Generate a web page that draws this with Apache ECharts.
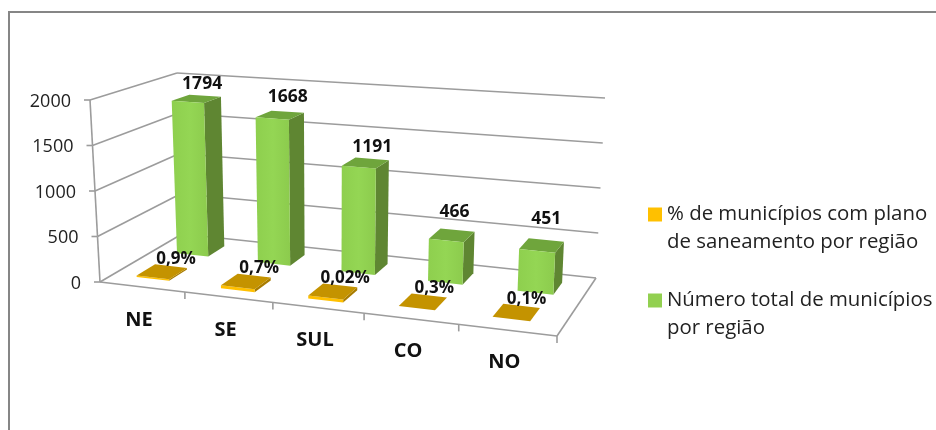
<!DOCTYPE html>
<html>
<head>
<meta charset="utf-8">
<style>html,body{margin:0;padding:0;background:#fff}#chart{width:936px;height:430px}</style>
<script src="https://cdn.jsdelivr.net/npm/echarts@6/dist/echarts.min.js"></script>
</head>
<body>
<div id="chart"></div>
<script>
// Chart data
const regions = ['NE', 'SE', 'SUL', 'CO', 'NO'];
const planPercent = [0.9, 0.7, 0.02, 0.3, 0.1];
const municipalities = [1794, 1668, 1191, 466, 451];
const valueTicks = [0, 500, 1000, 1500, 2000];
const seriesNames = ['% de municípios com plano\nde saneamento por região', 'Número total de municípios\npor região'];

// Corners of the 3D box on screen: floor plane and the plane at the axis maximum
const floorQuad = [[100, 282], [557, 336], [596, 278], [182, 234]];
const topQuad = [[90, 100], [566, 136], [605, 98], [177, 73]];

// Unit square -> quadrilateral projective map (corners: u0v0, u1v0, u1v1, u0v1)
function squareToQuad(q) {
  const [x0, y0] = q[0], [x1, y1] = q[1], [x2, y2] = q[2], [x3, y3] = q[3];
  const sx = x0 - x1 + x2 - x3, sy = y0 - y1 + y2 - y3;
  const dx1 = x1 - x2, dx2 = x3 - x2, dy1 = y1 - y2, dy2 = y3 - y2;
  const det = dx1 * dy2 - dx2 * dy1;
  const g = (sx * dy2 - dx2 * sy) / det, h = (dx1 * sy - sx * dy1) / det;
  const a = x1 - x0 + g * x1, b = x3 - x0 + h * x3, d = y1 - y0 + g * y1, e = y3 - y0 + h * y3;
  return (u, v) => {
    const w = g * u + h * v + 1;
    return [(a * u + b * v + x0) / w, (d * u + e * v + y0) / w];
  };
}
const floorMap = squareToQuad(floorQuad);
const rise = floorQuad.map((c, i) => [topQuad[i][0] - c[0], topQuad[i][1] - c[1]]);

// u: across the categories, v: depth, h: height as a share of the axis range.
// The floor position is projective; the vertical offset blends the four corner rises.
function project(u, v, h) {
  const f = floorMap(u, v);
  const blend = k => (rise[0][k] * (1 - u) + rise[1][k] * u) * (1 - v) + (rise[3][k] * (1 - u) + rise[2][k] * u) * v;
  return [f[0] + blend(0) * h, f[1] + blend(1) * h];
}

// Reads a value through the hidden cartesian axes and returns unit coordinates
function unitCoords(api, params, index, value) {
  const cs = params.coordSys, p = api.coord([index, value]);
  return {
    u: (p[0] - cs.x) / cs.width,
    h: (cs.y + cs.height - p[1]) / cs.height,
    halfBand: api.size([1, 0])[0] / cs.width / 2
  };
}

const poly = (points, fill) => ({ type: 'polygon', shape: { points }, style: { fill } });
const seg = (a, b, stroke, width) => ({
  type: 'line', shape: { x1: a[0], y1: a[1], x2: b[0], y2: b[1] },
  style: { stroke, lineWidth: width || 1.6 }
});
const label = (text, x, y, font, align, fill) => ({
  type: 'text',
  style: { text, x, y, font, align: align || 'center', verticalAlign: 'middle', fill: fill || '#111' }
});

const WALL = '#9c9c9c';
const FONT = '"Open Sans", sans-serif';
const BAR_SHARE = 0.39;

// Walls: one gridline pair plus tick and label per axis value
function renderTick(params, api) {
  const tick = api.value(1);
  const { h } = unitCoords(api, params, 0, tick);
  const front = project(0, 0, h), corner = project(0, 1, h), right = project(1, 1, h);
  const children = [
    seg(front, corner, WALL), seg(corner, right, WALL),
    seg([front[0] - 6, front[1]], front, WALL),
    label(String(tick), front[0] - 19, front[1] + 1.5, '18px ' + FONT, 'right', '#222')
  ];
  if (tick === 0) {
    children.push(seg(project(0, 0, 0), project(1, 0, 0), WALL), seg(project(1, 0, 0), project(1, 1, 0), WALL));
  } else {
    children.push(seg(project(0, 0, h), project(0, 0, h - 500 / 2000), WALL));
  }
  return { type: 'group', children };
}

// Floor ticks and region names
function renderCategory(params, api) {
  const i = api.value(0);
  const { u, halfBand } = unitCoords(api, params, i, 0);
  const end = project(u + halfBand, 0, 0);
  const mid = project(u, 0, 0);
  return {
    type: 'group',
    children: [
      label(regions[i], mid[0] - 3, mid[1] + 33 - i * 0.2, 'bold 20px ' + FONT),
      seg(end, [end[0], end[1] + 7], WALL)
    ]
  };
}

// Green column: front, side and top faces
function renderColumn(params, api) {
  const i = api.value(0), val = api.value(1);
  const { u, h, halfBand } = unitCoords(api, params, i, val);
  const hw = halfBand * BAR_SHARE, v0 = 0.63, v1 = 0.85;
  const L = u - 0.002 - hw, R = u - 0.002 + hw;
  const fb = [project(L, v0, 0), project(R, v0, 0)];
  const ft = [project(L, v0, h), project(R, v0, h)];
  const bb = project(R, v1, 0), bt = project(R, v1, h), tl = project(L, v1, h);
  const nudge = [[-3, -12], [0, -15], [0, -12], [-3, -18], [0, -21]][i];
  const cx = (tl[0] + bt[0]) / 2, cy = (tl[1] + bt[1]) / 2;
  return {
    type: 'group',
    children: [
      poly([ft[1], bt, bb, fb[1]], '#5f8632'),
      poly([ft[0], ft[1], bt, tl], '#6fa53c'),
      poly([fb[0], fb[1], ft[1], ft[0]], {
        type: 'linear', x: 0, y: 0, x2: 1, y2: 0,
        colorStops: [{ offset: 0, color: '#8ecf4e' }, { offset: 0.5, color: '#94d654' }, { offset: 1, color: '#8ccb4d' }]
      }),
      label(String(val), cx + nudge[0], cy + nudge[1], 'bold 17.5px ' + FONT)
    ]
  };
}

// Flat orange plate: its height comes from the percentage on the shared axis
function renderPlate(params, api) {
  const i = api.value(0), val = api.value(1);
  const { u, h, halfBand } = unitCoords(api, params, i, val);
  const hw = halfBand * BAR_SHARE, v0 = 0.17, v1 = 0.39;
  const L = u - 0.009 - hw, R = u - 0.009 + hw;
  const rim = [1.5, 3, 3, 0, 0][i];
  const a = project(L, v0, h), b = project(R, v0, h), c = project(R, v1, h), d = project(L, v1, h);
  const children = [];
  if (rim) {
    children.push(poly([b, c, [c[0], c[1] + rim], [b[0], b[1] + rim]], '#a87c00'));
    children.push(poly([a, b, [b[0], b[1] + rim], [a[0], a[1] + rim]], '#ffc000'));
  }
  children.push(poly([a, b, c, d], '#c49300'));
  const cx = (c[0] + d[0]) / 2, cy = (c[1] + d[1]) / 2;
  children.push(label(String(val).replace('.', ',') + '%', cx + 5, cy - 7, 'bold 17px ' + FONT));
  return { type: 'group', children };
}

const chart = echarts.init(document.getElementById('chart'), null, { renderer: 'canvas' });
chart.setOption({
  animation: false,
  backgroundColor: '#fff',
  grid: { left: 100, right: 100, top: 50, bottom: 50, show: false },
  xAxis: { type: 'category', data: regions, show: false },
  yAxis: { type: 'value', min: 0, max: 2000, interval: 500, show: false },
  legend: {
    left: 648, top: 200, orient: 'vertical', itemGap: 30, padding: 0,
    itemWidth: 14, itemHeight: 41,
    data: [
      { name: seriesNames[0], icon: 'path://M0 0H14V14H0Z M0 41L0 41' },
      { name: seriesNames[1], icon: 'path://M0 0H14V14H0Z M0 41L0 41' }
    ],
    textStyle: { fontFamily: 'Open Sans', fontSize: 20.4, lineHeight: 28, color: '#222' }
  },
  graphic: [
    { type: 'line', shape: { x1: 9, y1: 11, x2: 9, y2: 430 }, style: { stroke: '#868686', lineWidth: 2 } },
    { type: 'line', shape: { x1: 8, y1: 12, x2: 936, y2: 12 }, style: { stroke: '#868686', lineWidth: 2 } }
  ],
  series: [
    {
      type: 'custom', name: 'Eixo', coordinateSystem: 'cartesian2d', z: 1, silent: true,
      renderItem: renderTick, encode: { x: 0, y: 1 },
      data: valueTicks.map(t => [0, t])
    },
    {
      type: 'custom', name: 'Regiões', coordinateSystem: 'cartesian2d', z: 1, silent: true,
      renderItem: renderCategory, encode: { x: 0, y: 1 },
      data: regions.map((r, i) => [i, 0])
    },
    {
      type: 'custom', name: seriesNames[1], coordinateSystem: 'cartesian2d', z: 2,
      itemStyle: { color: '#92d050' },
      renderItem: renderColumn, encode: { x: 0, y: 1 },
      data: municipalities.map((v, i) => [i, v])
    },
    {
      type: 'custom', name: seriesNames[0], coordinateSystem: 'cartesian2d', z: 3,
      itemStyle: { color: '#ffc000' },
      renderItem: renderPlate, encode: { x: 0, y: 1 },
      data: planPercent.map((v, i) => [i, v])
    }
  ]
});
</script>
</body>
</html>
